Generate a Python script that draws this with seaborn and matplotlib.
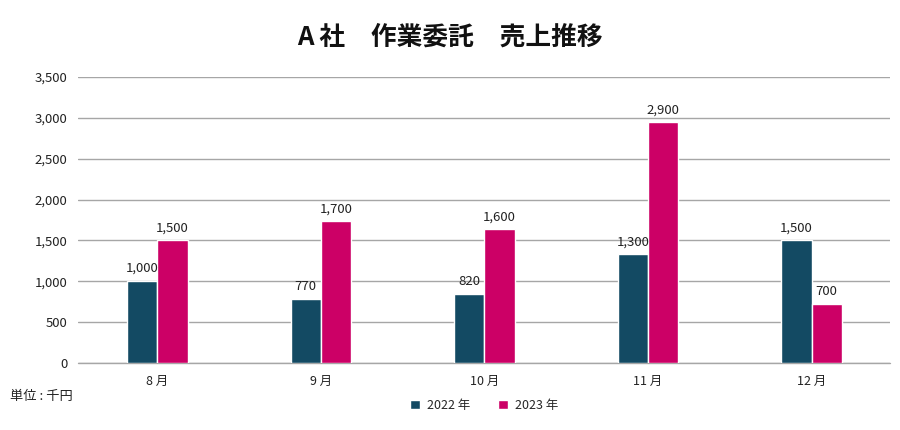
import pandas as pd
import matplotlib
matplotlib.use('Agg')
import matplotlib.pyplot as plt
import seaborn as sns

months = ['8 月', '9 月', '10 月', '11 月', '12 月']
years = ['2022 年', '2023 年']
# bar heights as drawn in the chart, and the printed labels
sales_2022 = [1008, 785, 845, 1333, 1500]
sales_2023 = [1508, 1736, 1638, 2943, 722]
labels_2022 = ['1,000', '770', '820', '1,300', '1,500']
labels_2023 = ['1,500', '1,700', '1,600', '2,900', '700']
colors = ['#134a63', '#cc0066']

df = pd.DataFrame({
    'month': months * 2,
    'year': [years[0]] * len(months) + [years[1]] * len(months),
    'sales': sales_2022 + sales_2023,
})

sns.set_style('white')
plt.rcParams['font.family'] = ['Noto Sans CJK JP', 'DejaVu Sans']

fig = plt.figure(figsize=(9, 4.3), dpi=100)
ax = fig.add_axes([0.087, 0.156, 0.902, 0.665])

sns.barplot(data=df, x='month', y='sales', hue='year', palette=colors,
            width=0.37, gap=0, saturation=1, ax=ax, zorder=3)

for cont, labs in zip(ax.containers, [labels_2022, labels_2023]):
    ax.bar_label(cont, labels=labs, padding=4, fontsize=9.5, color='#222222')

ax.set_ylim(0, 3500)
ax.set_yticks(range(0, 3501, 500))
ax.set_yticklabels([f'{v:,}' for v in range(0, 3501, 500)])
ax.set_xlim(-0.483, 4.48)
ax.grid(axis='y', color='#a6a6a6', linewidth=1, zorder=0)
ax.axhline(0, color='#a6a6a6', linewidth=1, zorder=1, clip_on=False)
for s in ax.spines.values():
    s.set_visible(False)
ax.tick_params(axis='both', length=0, colors='#222222')
ax.tick_params(axis='y', pad=8, labelsize=9.5)
ax.tick_params(axis='x', pad=9, labelsize=9)
ax.set_xlabel('')
ax.set_ylabel('')

leg = ax.legend(loc='center', ncol=2, frameon=False, fontsize=9,
                handlelength=0.8, handleheight=0.8,
                handletextpad=0.6, columnspacing=2.2)
leg.set_bbox_to_anchor((0.538, 0.057), transform=fig.transFigure)

fig.text(0.011, 0.077, '単位 : 千円', fontsize=9.5, color='#222222', va='center')
fig.suptitle('A 社　作業委託　売上推移', x=0.5, y=0.945, fontsize=18.5,
             fontweight='bold', color='#111111')

fig.savefig('out.png', dpi=100)
